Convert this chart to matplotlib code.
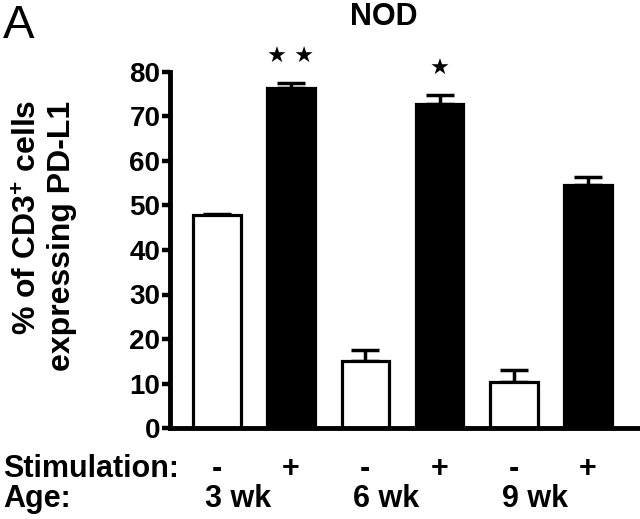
import numpy as np
import matplotlib
matplotlib.use('Agg')
import matplotlib.pyplot as plt
import matplotlib.transforms as mtransforms

plt.rcParams['font.family'] = ['Liberation Sans', 'DejaVu Sans']
plt.rcParams['mathtext.fontset'] = 'custom'
plt.rcParams['mathtext.rm'] = 'Liberation Sans:bold'
plt.rcParams['mathtext.it'] = 'Liberation Sans:bold'
plt.rcParams['mathtext.bf'] = 'Liberation Sans:bold'

# values
ages = ['3 wk', '6 wk', '9 wk']
stim = ['-', '+', '-', '+', '-', '+']
pct = [47.8, 76.5, 15.1, 72.8, 10.4, 54.6]
sem = [0.3, 1.0, 2.5, 2.0, 2.6, 1.7]
colors = ['white', 'black', 'white', 'black', 'white', 'black']
stars = ['', '\u2605 \u2605', '', '\u2605', '', '']

fig = plt.figure(figsize=(6.4, 5.19), dpi=100)
ax = fig.add_axes([170/640, 91/519, 470/640, 356/519])

x = np.arange(len(pct))
ax.bar(x, pct, width=0.64, color=colors, edgecolor='black', linewidth=2.3, zorder=2)
ax.errorbar(x, pct, yerr=[np.zeros(len(sem)), sem], fmt='none', ecolor='black',
            elinewidth=2.5, capsize=10, capthick=2.5, zorder=1)

for xi, s, v, e in zip(x, stars, pct, sem):
    if s:
        ax.text(xi, v + e + 5.8, s, ha='center', va='center', fontsize=16,
                family='DejaVu Sans')

ax.set_xlim(-0.63, 5.7)
ax.set_ylim(0, 80)
ax.set_yticks(np.arange(0, 81, 10))
ax.set_xticks([])
for side in ['top', 'right']:
    ax.spines[side].set_visible(False)
for side in ['left', 'bottom']:
    ax.spines[side].set_linewidth(3.5)
ax.tick_params(axis='y', length=5.5, width=3.2, labelsize=20, pad=1.5)
for lab in ax.get_yticklabels():
    lab.set_fontweight('bold')

# rows under the axis
trans = mtransforms.blended_transform_factory(ax.transData, fig.transFigure)
y_stim = (519 - 477) / 519
y_age = (519 - 507) / 519
for xi, s in zip(x, stim):
    ax.text(xi, y_stim, s, transform=trans, ha='center', va='baseline',
            fontsize=22, fontweight='bold', clip_on=False)
for i, a in enumerate(ages):
    ax.text(2 * i + 0.5 - 0.22, y_age, a, transform=trans, ha='center', va='baseline',
            fontsize=22, fontweight='bold', clip_on=False)
fig.text(3/640, y_stim, 'Stimulation:', ha='left', va='baseline', fontsize=22, fontweight='bold')
fig.text(3/640, y_age, 'Age:', ha='left', va='baseline', fontsize=22, fontweight='bold')

# y label, two lines
fig.text(37/640, (519 - 217) / 519, '% of CD3$^{+}$ cells', rotation=90,
         rotation_mode='anchor', ha='center', va='baseline', fontsize=23,
         fontweight='bold')
fig.text(70/640, (519 - 236) / 519, 'expressing PD-L1', rotation=90,
         rotation_mode='anchor', ha='center', va='baseline', fontsize=23,
         fontweight='bold')

fig.text(384/640, (519 - 25) / 519, 'NOD', ha='center', va='baseline', fontsize=22,
         fontweight='bold')
fig.text(3/640, (519 - 38) / 519, 'A', ha='left', va='baseline', fontsize=34)

fig.savefig('out.png', dpi=100)
